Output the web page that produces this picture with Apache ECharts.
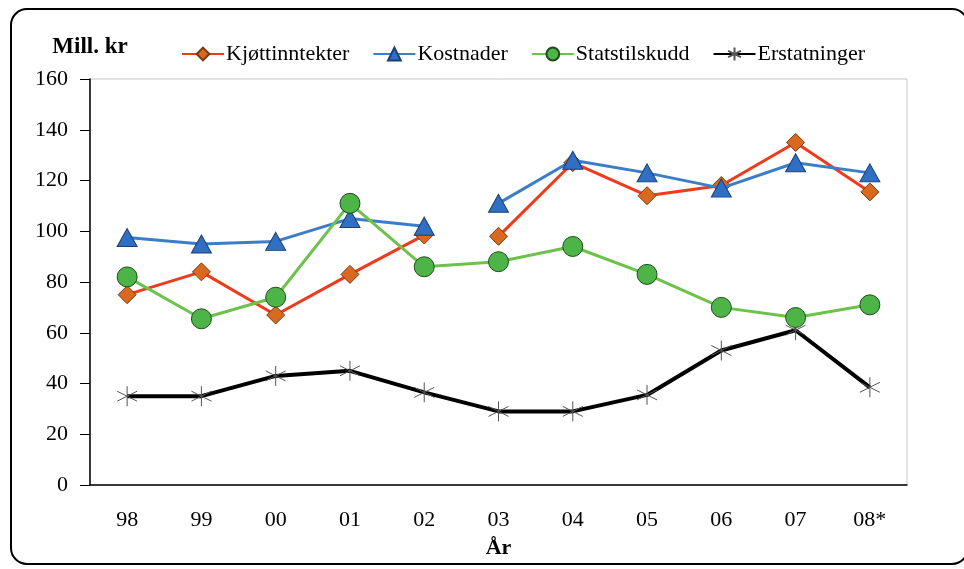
<!DOCTYPE html>
<html>
<head>
<meta charset="utf-8">
<script src="https://cdn.jsdelivr.net/npm/echarts@6/dist/echarts.min.js"></script>
<style>
  html, body { margin: 0; padding: 0; background: #fff; }
  #chart { width: 964px; height: 569px; }
</style>
</head>
<body>
<div id="chart"></div>
<script>
const years = ['98', '99', '00', '01', '02', '03', '04', '05', '06', '07', '08*']
const kjott = [75, 84, 67, 83, 98.5, 98, 127, 114, 118, 135, 115.5]
const kostnader = [97.5, 95, 96, 105, 102, 111, 128, 123, 117, 127, 123]
const statstilskudd = [82, 65.5, 74, 111, 86, 88, 94, 83, 70, 66, 71]
const erstatninger = [35, 35, 43, 45, 36.5, 29, 29, 35.5, 53, 61, 38.5]
// red and blue lines are broken between 02 and 03
const breakAt = 5

function part(arr, first) {
    return arr.map((v, i) => (first ? i < breakAt : i >= breakAt) ? v : null)
}

const serif = '"Liberation Serif", "DejaVu Serif", serif'
const starPath = 'path://M0,-10L0,10M-8.7,-5L8.7,5M-8.7,5L8.7,-5'

const kjottStyle = {
    name: 'Kjøttinntekter',
    type: 'line',
    symbol: 'diamond',
    symbolSize: 18,
    itemStyle: { color: '#d9691f', borderColor: '#7a3a10', borderWidth: 1 },
    lineStyle: { color: '#f03a1c', width: 3 },
    z: 3
}
const kostStyle = {
    name: 'Kostnader',
    type: 'line',
    symbol: 'triangle',
    symbolSize: [20, 18],
    itemStyle: { color: '#2f6fc4', borderColor: '#1d3f70', borderWidth: 1 },
    lineStyle: { color: '#3b7dc9', width: 3 },
    z: 4
}

const chart = echarts.init(document.getElementById('chart'))
chart.setOption({
    animation: false,
    textStyle: { fontFamily: serif },
    graphic: [{
        type: 'rect',
        shape: { x: 11, y: 9, width: 957, height: 555, r: 16 },
        style: { fill: 'none', stroke: '#000', lineWidth: 2 },
        z: -1
    }],
    legend: {
        top: 38,
        left: 176,
        itemWidth: 42,
        itemHeight: 16,
        itemGap: 23,
        textStyle: { fontFamily: serif, fontSize: 22, color: '#000', padding: [0, 0, 0, -3] },
        data: ['Kjøttinntekter', 'Kostnader', 'Statstilskudd', 'Erstatninger']
    },
    grid: { left: 90, right: 57, top: 79, bottom: 84, show: true, borderColor: '#c8c8c8', borderWidth: 1 },
    xAxis: {
        type: 'category',
        data: years,
        boundaryGap: true,
        name: 'År',
        nameLocation: 'middle',
        nameGap: 52,
        nameTextStyle: { fontFamily: serif, fontSize: 22, fontWeight: 'bold', color: '#000' },
        axisLine: { lineStyle: { color: '#000', width: 1.5 } },
        axisTick: { length: 8, lineStyle: { color: '#000' } },
        axisLabel: { fontFamily: serif, fontSize: 22, color: '#000', margin: 24 },
        splitLine: { show: false }
    },
    yAxis: {
        type: 'value',
        min: 0,
        max: 160,
        interval: 20,
        name: 'Mill. kr',
        nameLocation: 'end',
        nameGap: 20,
        nameTextStyle: { fontFamily: serif, fontSize: 23, fontWeight: 'bold', color: '#000', align: 'center' },
        axisLine: { show: true, lineStyle: { color: '#000', width: 1.5 } },
        axisTick: { show: true, length: 10, lineStyle: { color: '#000' } },
        axisLabel: { fontFamily: serif, fontSize: 22, color: '#000', margin: 22 },
        splitLine: { show: false }
    },
    series: [
        Object.assign({ data: part(kjott, true) }, kjottStyle),
        Object.assign({ data: part(kjott, false) }, kjottStyle),
        Object.assign({ data: part(kostnader, true) }, kostStyle),
        Object.assign({ data: part(kostnader, false) }, kostStyle),
        {
            name: 'Statstilskudd',
            type: 'line',
            data: statstilskudd,
            symbol: 'circle',
            symbolSize: 20,
            itemStyle: { color: '#4db548', borderColor: '#1f4a1c', borderWidth: 1 },
            lineStyle: { color: '#6cc24a', width: 3 },
            z: 5
        },
        {
            name: 'Erstatninger',
            type: 'line',
            data: erstatninger,
            symbol: starPath,
            symbolSize: 20,
            itemStyle: { color: 'none', borderColor: '#555', borderWidth: 1 },
            lineStyle: { color: '#000', width: 4 },
            z: 2
        }
    ]
})
</script>
</body>
</html>
